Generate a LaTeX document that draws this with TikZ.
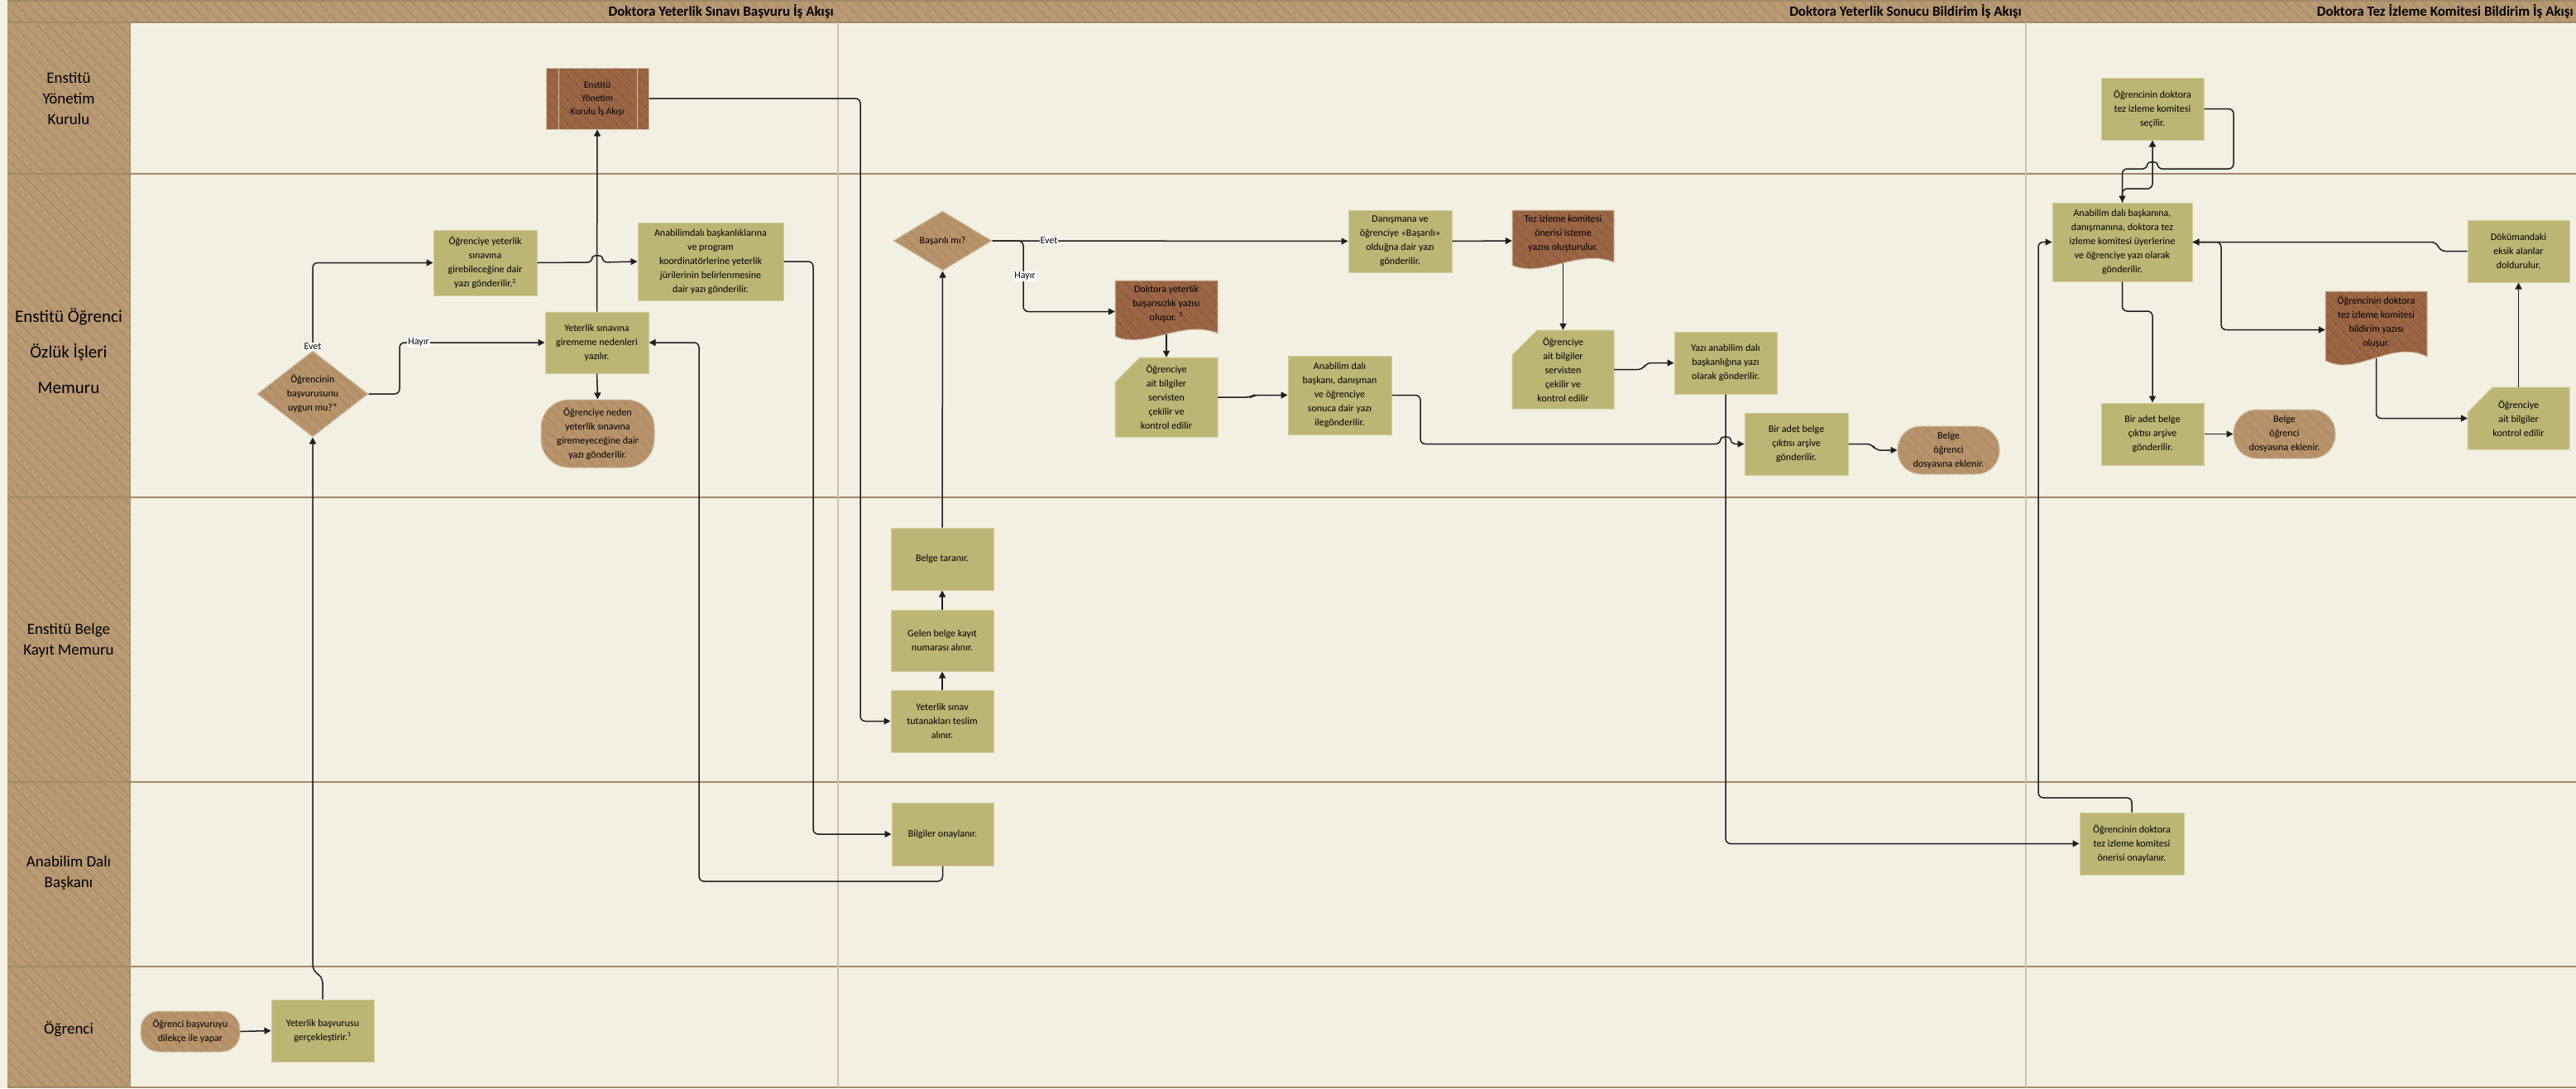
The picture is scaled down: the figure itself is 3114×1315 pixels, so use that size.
\documentclass[tikz,border=0pt]{standalone}
\usepackage{fontspec}
\setmainfont{Carlito}
\usetikzlibrary{patterns.meta,arrows.meta,shapes.geometric}
\definecolor{bg}{HTML}{F2EFE3}
\definecolor{tanb}{HTML}{B89A74}
\definecolor{tans}{HTML}{B0906A}
\definecolor{olive}{HTML}{BDB574}
\definecolor{olivel}{HTML}{D3CD9C}
\definecolor{brownd}{HTML}{9A6646}
\definecolor{browns}{HTML}{925E40}
\definecolor{termb}{HTML}{B8946C}
\definecolor{terms}{HTML}{B08C64}
\definecolor{terml}{HTML}{D2BFA4}
\definecolor{lanel}{HTML}{A08A68}
\definecolor{secl}{HTML}{CBBFA9}
\definecolor{conn}{HTML}{1E1E1E}
\tikzset{
  every node/.style={font=\fontsize{12}{17}\selectfont, text=black},
  hatchtan/.style={preaction={fill=tanb}, pattern={Lines[angle=-45,distance=10pt,line width=2.5pt]}, pattern color=tans},
  procbox/.style={rectangle, draw=olivel, line width=1pt, fill=olive, inner sep=1pt, align=center},
  termbox/.style={rectangle, draw=terml, line width=1pt, preaction={fill=termb}, pattern={Lines[angle=-45,distance=10pt,line width=2.5pt]}, pattern color=terms, inner sep=1pt, align=center},
  decbox/.style={diamond, draw=terml, line width=1pt, preaction={fill=termb}, pattern={Lines[angle=-45,distance=10pt,line width=2.5pt]}, pattern color=terms, inner sep=0pt},
  predefbox/.style={rectangle, draw=terml, line width=1pt, preaction={fill=brownd}, pattern={Lines[angle=-45,distance=10pt,line width=2.5pt]}, pattern color=browns, inner sep=1pt, align=center, font=\fontsize{11.5}{16}\selectfont},
  docfill/.style={draw=terml, line width=1pt, preaction={fill=brownd}, pattern={Lines[angle=-45,distance=10pt,line width=2.5pt]}, pattern color=browns},
  cardfill/.style={draw=olivel, line width=1pt, fill=olive},
  plainbox/.style={rectangle, inner sep=1pt, align=center},
  txt/.style={inner sep=0pt, align=center},
  conn/.style={draw=conn, line width=1.5pt, rounded corners=6pt, -{Triangle[length=8pt,width=8pt]}},
  lbl/.style={fill=white, inner sep=1pt, font=\fontsize{12}{14}\selectfont},
  lanelbl/.style={align=center, font=\fontsize{19}{25}\selectfont},
  headlbl/.style={anchor=east, inner sep=0pt, font=\fontsize{17}{20}\bfseries\selectfont},
}
\newcommand\docshp[4]{\path[docfill] (#1,#2) -- (#3,#2) -- (#3,{#2+0.85*(#4-#2)}) .. controls ({#1+0.65*(#3-#1)},{#2+0.62*(#4-#2)}) and ({#1+0.3*(#3-#1)},{#2+1.12*(#4-#2)}) .. (#1,{#2+0.9*(#4-#2)}) -- cycle;}
\newcommand\cardshp[4]{\path[cardfill] ({#1+30},#2) -- (#3,#2) -- (#3,#4) -- (#1,#4) -- (#1,{#2+30}) -- cycle;}
\begin{document}
\begin{tikzpicture}[x=1pt,y=-1pt]
\useasboundingbox (0,0) rectangle (3114,1315);
\fill[bg] (0,0) rectangle (3114,1315);
% lanes and header
\path[hatchtan] (9,1) rectangle (3114,27);
\path[hatchtan] (9,27) rectangle (157,1314);
\foreach \yy in {1,27,210,601,945,1168,1314} {\draw[lanel, line width=2.5pt] (9,\yy) -- (3114,\yy);}
\draw[secl, line width=2pt] (1013,27) -- (1013,1314);
\draw[secl, line width=2pt] (2449,27) -- (2449,1314);
\draw[lanel, line width=1pt] (157,27) -- (157,1314);
\node[headlbl] (h1) at (1008,14) {Doktora Yeterlik Sınavı Başvuru İş Akışı};
\node[headlbl] (h2) at (2444,14) {Doktora Yeterlik Sonucu Bildirim İş Akışı};
\node[headlbl] (h3) at (3111,14) {Doktora Tez İzleme Komitesi Bildirim İş Akışı};
\node[lanelbl] (l1) at (83,119) {Enstitü\\Yönetim\\Kurulu};
\node[lanelbl, font=\fontsize{21}{43}\selectfont] (l2) at (83,424) {Enstitü Öğrenci\\Özlük İşleri\\Memuru};
\node[lanelbl] (l3) at (83,774) {Enstitü Belge\\Kayıt Memuru};
\node[lanelbl] (l4) at (83,1055) {Anabilim Dalı\\Başkanı};
\node[lanelbl] (l5) at (83,1243) {Öğrenci};

% ---------- section 1 ----------
\node[predefbox, minimum width=124pt, minimum height=74pt] (A) at (722,119) {Enstitü\\Yönetim\\Kurulu İş Akışı};
\draw[terml, line width=1pt] (675,82) -- (675,156) (770,82) -- (770,156);
\node[procbox, minimum width=125pt, minimum height=79pt] (B) at (586.5,317.5) {Öğrenciye yeterlik\\sınavına\\girebileceğine dair\\yazı gönderilir.\textsuperscript{2}};
\node[procbox, minimum width=176pt, minimum height=94pt] (C) at (859,316) {Anabilimdalı başkanlıklarına\\ve program\\koordinatörlerine yeterlik\\jürilerinin belirlenmesine\\dair yazı gönderilir.};
\node[procbox, minimum width=125pt, minimum height=74pt] (D) at (721.5,414) {Yeterlik sınavına\\girememe nedenleri\\yazılır.};
\node[termbox, rounded corners=34pt, minimum width=137pt, minimum height=82pt] (E) at (722.5,524) {Öğrenciye neden\\yeterlik sınavına\\giremeyeceğine dair\\yazı gönderilir.};
\node[decbox, minimum width=134pt, minimum height=104pt] (F) at (378,476) {};
\node[txt] (Ft) at (378,476) {Öğrencinin\\başvurusunu\\uygun mu?*};
\node[termbox, rounded corners=22pt, minimum width=120pt, minimum height=49pt] (G) at (230,1246.5) {Öğrenci başvuruyu\\dilekçe ile yapar};
\node[procbox, minimum width=124pt, minimum height=75pt] (H) at (390,1245.5) {Yeterlik başvurusu\\gerçekleştirir.\textsuperscript{1}};
\node[procbox, minimum width=123pt, minimum height=76pt] (I) at (1139.5,1008) {Bilgiler onaylanır.};
\node[procbox, minimum width=124pt, minimum height=75pt] (J) at (1139,871.5) {Yeterlik sınav\\tutanakları teslim\\alınır.};
\node[procbox, minimum width=124pt, minimum height=74pt] (K) at (1139,774) {Gelen belge kayıt\\numarası alınır.};
\node[procbox, minimum width=124pt, minimum height=75pt] (L) at (1139,675.5) {Belge taranır.};

% ---------- section 2 ----------
\node[decbox, minimum width=119pt, minimum height=72pt] (M) at (1139.5,291) {};
\node[txt] (Mt) at (1139.5,291) {Başarılı mı?};
\node[procbox, minimum width=125pt, minimum height=75pt] (N) at (1692.5,291.5) {Danışmana ve\\öğrenciye «Başarılı»\\olduğna dair yazı\\gönderilir.};
\docshp{1348}{339}{1472}{414}
\node[plainbox, minimum width=124pt, minimum height=75pt] (O) at (1410,376.5) {};
\node[txt] (Ot) at (1410,367) {Doktora yeterlik\\başarısızlık yazısı\\oluşur. \textsuperscript{3}};
\coordinate (Ob) at (1410,404);
\cardshp{1348}{432}{1472}{528}
\node[plainbox, minimum width=124pt, minimum height=96pt] (P) at (1410,480) {Öğrenciye\\ait bilgiler\\servisten\\çekilir ve\\kontrol edilir};
\node[procbox, minimum width=125pt, minimum height=95pt] (Q) at (1619.5,477.5) {Anabilim dalı\\başkanı, danışman\\ve öğrenciye\\sonuca dair yazı\\ilegönderilir.};
\docshp{1828}{254}{1951}{328}
\node[plainbox, minimum width=123pt, minimum height=74pt] (R) at (1889.5,291) {};
\node[txt] (Rt) at (1889.5,282) {Tez izleme komitesi\\önerisi isteme\\yazısı oluşturulur.};
\coordinate (Rb) at (1889.5,318);
\cardshp{1828}{399}{1951}{494}
\node[plainbox, minimum width=123pt, minimum height=95pt] (S) at (1889.5,446.5) {Öğrenciye\\ait bilgiler\\servisten\\çekilir ve\\kontrol edilir};
\node[procbox, minimum width=124pt, minimum height=75pt] (T) at (2086,438.5) {Yazı anabilim dalı\\başkanlığına yazı\\olarak gönderilir.};
\node[procbox, minimum width=125pt, minimum height=75pt] (U) at (2171.5,536.5) {Bir adet belge\\çıktısı arşive\\gönderilir.};
\node[termbox, rounded corners=28pt, minimum width=123pt, minimum height=58pt] (V) at (2355.5,544) {Belge\\öğrenci\\dosyasına eklenir.};

% ---------- section 3 ----------
\node[procbox, minimum width=124pt, minimum height=75pt] (W) at (2602,131.5) {Öğrencinin doktora\\tez izleme komitesi\\seçilir.};
\node[procbox, minimum width=169pt, minimum height=95pt] (X) at (2565.5,292.5) {Anabilim dalı başkanına,\\danışmanına, doktora tez\\izleme komitesi üyerlerine\\ve öğrenciye yazı olarak\\gönderilir.};
\node[procbox, minimum width=124pt, minimum height=75pt] (Y) at (2602,524.5) {Bir adet belge\\çıktısı arşive\\gönderilir.};
\node[termbox, rounded corners=28pt, minimum width=123pt, minimum height=59pt] (Z) at (2761.5,524.5) {Belge\\öğrenci\\dosyasına eklenir.};
\docshp{2811}{352}{2934}{445}
\node[plainbox, minimum width=123pt, minimum height=93pt] (AA) at (2872.5,398.5) {};
\node[txt] (AAt) at (2872.5,389) {Öğrencinin doktora\\tez izleme komitesi\\bildirim yazısı\\oluşur.};
\coordinate (AAb) at (2872.5,433);
\cardshp{2983}{468}{3106}{543}
\node[plainbox, minimum width=123pt, minimum height=75pt] (AB) at (3044.5,505.5) {Öğrenciye\\ait bilgiler\\kontrol edilir};
\node[procbox, minimum width=123pt, minimum height=75pt] (AC) at (3044.5,303.5) {Dökümandaki\\eksik alanlar\\doldurulur.};
\node[procbox, minimum width=126pt, minimum height=75pt] (AD) at (2577,1019.5) {Öğrencinin doktora\\tez izleme komitesi\\önerisi onaylanır.};

% ---------- connectors ----------
\draw[conn] (G.east) -- (H.west);
\draw[conn] (H.north) -- (390,1182) -- (378,1172) -- (F.south);
\draw[conn] (F.north) |- (B.west);
\draw[conn] (F.east) -- (483,476) -- (483,414) -- (D.west);
\draw[conn] (D.north) -- (A.south);
\draw[conn] (D.south) -- (E.north);
\draw[conn] (B.east) -- (716,317) .. controls (716,308) and (728,308) .. (728,317) -- (C.west);
\draw[conn] (C.east) -- (983,316) -- (983,1008) -- (I.west);
\draw[conn] (I.south) -- (1139.5,1065) -- (845,1065) -- (845,414) -- (D.east);
\draw[conn] (A.east) -- (1040,119) -- (1040,871.5) -- (J.west);
\draw[conn] (J.north) -- (K.south);
\draw[conn] (K.north) -- (L.south);
\draw[conn] (L.north) -- (M.south);
\draw[conn] (M.east) -- (N.west);
\draw[conn] (M.east) -- (1237,291) -- (1237,376.5) -- (O.west);
\draw[conn] (Ob) -- (P.north);
\draw[conn] (P.east) -- (1512,480) -- (1516,477.5) -- (Q.west);
\draw[conn] (Q.east) -- (1717,477.5) -- (1717,536.5) -- (2080,536.5) .. controls (2080,527) and (2092,527) .. (2092,536.5) -- (U.west);
\draw[conn] (N.east) -- (R.west);
\draw[conn] (Rb) -- (S.north);
\draw[conn] (S.east) -- (1986,446.5) -- (1990,438.5) -- (T.west);
\draw[conn] (T.south) -- (2086,1019.5) -- (AD.west);
\draw[conn] (U.east) -- (2263,536.5) -- (2267,544) -- (V.west);
\draw[conn] (AD.north) -- (2577,964) -- (2464,964) -- (2464,292.5) -- (X.west);
\draw[conn] (X.north) -- (2565.5,228) -- (2602,228) -- (W.south);
\draw[conn] (W.east) -- (2700,131.5) -- (2700,204) -- (2608,204) .. controls (2608,195) and (2596,195) .. (2596,204) -- (2565.5,204) -- (X.north);
\draw[conn] (X.east) -- (2685,292.5) -- (2685,398.5) -- (AA.west);
\draw[conn] (AC.west) -- (2950,303.5) -- (2945,292.5) -- (X.east);
\draw[conn] (X.south) -- (2565.5,376) -- (2602,376) -- (Y.north);
\draw[conn] (Y.east) -- (Z.west);
\draw[conn] (AAb) -- (2872.5,505.5) -- (AB.west);
\draw[conn] (AB.north) -- (AC.south);

% ---------- labels ----------
\node[lbl] (e1) at (378,419) {Evet};
\node[lbl] (y1) at (506,414) {Hayır};
\node[lbl] (e2) at (1268,291) {Evet};
\node[lbl] (y2) at (1239,334) {Hayır};
\end{tikzpicture}
\end{document}
